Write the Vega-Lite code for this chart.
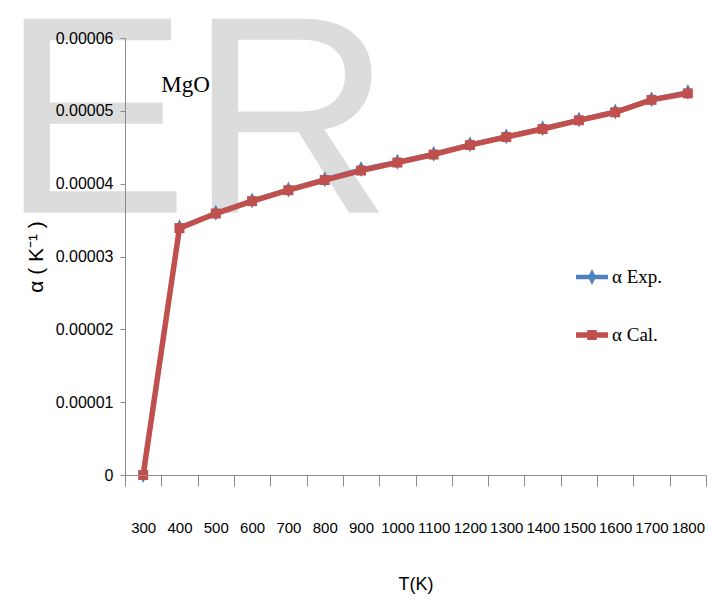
{
  "$schema": "https://vega.github.io/schema/vega-lite/v6.json",
  "width": 581,
  "height": 437,
  "autosize": "none",
  "padding": {"left": 125, "top": 38, "right": 9, "bottom": 125},
  "background": "white",
  "config": {"view": {"stroke": null}},
  "datasets": {
    "alpha": [
      {"T": 300, "series": "α Exp.", "alpha": 0},
      {"T": 400, "series": "α Exp.", "alpha": 0.0000340},
      {"T": 500, "series": "α Exp.", "alpha": 0.0000360},
      {"T": 600, "series": "α Exp.", "alpha": 0.0000377},
      {"T": 700, "series": "α Exp.", "alpha": 0.0000392},
      {"T": 800, "series": "α Exp.", "alpha": 0.0000406},
      {"T": 900, "series": "α Exp.", "alpha": 0.0000420},
      {"T": 1000, "series": "α Exp.", "alpha": 0.0000430},
      {"T": 1100, "series": "α Exp.", "alpha": 0.0000441},
      {"T": 1200, "series": "α Exp.", "alpha": 0.0000454},
      {"T": 1300, "series": "α Exp.", "alpha": 0.0000465},
      {"T": 1400, "series": "α Exp.", "alpha": 0.0000476},
      {"T": 1500, "series": "α Exp.", "alpha": 0.0000488},
      {"T": 1600, "series": "α Exp.", "alpha": 0.0000499},
      {"T": 1700, "series": "α Exp.", "alpha": 0.0000516},
      {"T": 1800, "series": "α Exp.", "alpha": 0.0000526},
      {"T": 300, "series": "α Cal.", "alpha": 0},
      {"T": 400, "series": "α Cal.", "alpha": 0.0000339},
      {"T": 500, "series": "α Cal.", "alpha": 0.0000359},
      {"T": 600, "series": "α Cal.", "alpha": 0.0000376},
      {"T": 700, "series": "α Cal.", "alpha": 0.0000391},
      {"T": 800, "series": "α Cal.", "alpha": 0.0000405},
      {"T": 900, "series": "α Cal.", "alpha": 0.0000418},
      {"T": 1000, "series": "α Cal.", "alpha": 0.0000429},
      {"T": 1100, "series": "α Cal.", "alpha": 0.0000440},
      {"T": 1200, "series": "α Cal.", "alpha": 0.0000453},
      {"T": 1300, "series": "α Cal.", "alpha": 0.0000464},
      {"T": 1400, "series": "α Cal.", "alpha": 0.0000475},
      {"T": 1500, "series": "α Cal.", "alpha": 0.0000487},
      {"T": 1600, "series": "α Cal.", "alpha": 0.0000498},
      {"T": 1700, "series": "α Cal.", "alpha": 0.0000515},
      {"T": 1800, "series": "α Cal.", "alpha": 0.0000524}
    ],
    "notes": [
      {"T": 1000, "alpha": 0.0000360, "label": "ER", "kind": "watermark"},
      {"T": 400, "alpha": 0.0000536, "label": "MgO", "kind": "title"}
    ]
  },
  "encoding": {
    "x": {
      "field": "T",
      "type": "ordinal",
      "scale": {"type": "band", "paddingInner": 0, "paddingOuter": 0},
      "axis": {
        "title": "T(K)",
        "labelAngle": 0,
        "tickBand": "extent",
        "tickSize": 11,
        "tickColor": "#8c8c8c",
        "domainColor": "#8c8c8c",
        "labelPadding": 34,
        "labelFont": "Liberation Sans, sans-serif",
        "labelFontSize": 15,
        "labelColor": "#000000",
        "titleFont": "Liberation Sans, sans-serif",
        "titleFontSize": 18,
        "titleFontWeight": "normal",
        "titleColor": "#000000",
        "titlePadding": 40,
        "zindex": 1
      }
    },
    "y": {
      "field": "alpha",
      "type": "quantitative",
      "scale": {"domain": [0, 0.00006], "nice": false},
      "axis": {
        "title": "α ( K⁻¹ )",
        "values": [0, 0.00001, 0.00002, 0.00003, 0.00004, 0.00005, 0.00006],
        "labelExpr": "datum.value === 0 ? '0' : format(datum.value, '.5f')",
        "grid": false,
        "tickSize": 5,
        "tickColor": "#8c8c8c",
        "domainColor": "#8c8c8c",
        "labelPadding": 7,
        "labelFont": "Liberation Sans, sans-serif",
        "labelFontSize": 16,
        "labelColor": "#000000",
        "titleFont": "Liberation Sans, sans-serif",
        "titleFontSize": 21,
        "titleFontWeight": "normal",
        "titleColor": "#000000",
        "titlePadding": 9,
        "zindex": 1
      }
    }
  },
  "layer": [
    {
      "data": {"name": "notes"},
      "transform": [{"filter": "datum.kind === 'watermark'"}],
      "mark": {"type": "text", "align": "right", "baseline": "alphabetic", "font": "Liberation Sans, sans-serif", "fontSize": 282, "dx": -5, "color": "#dcdcdc", "clip": false},
      "encoding": {"text": {"field": "label"}}
    },
    {
      "data": {"name": "notes"},
      "transform": [{"filter": "datum.kind === 'title'"}],
      "mark": {"type": "text", "align": "center", "baseline": "middle", "font": "Liberation Serif, serif", "fontSize": 23, "dx": 6, "color": "#000000"},
      "encoding": {"text": {"field": "label"}}
    },
    {
      "data": {"name": "alpha"},
      "transform": [{"filter": "datum.series === 'α Exp.'"}],
      "mark": {"type": "line", "strokeWidth": 4},
      "encoding": {
        "color": {
          "field": "series",
          "type": "nominal",
          "scale": {"domain": ["α Exp.", "α Cal."], "range": ["#4F81BD", "#C0504D"]},
          "legend": {
            "title": null,
            "orient": "none",
            "legendX": 451,
            "legendY": 223,
            "padding": 0,
            "rowPadding": 32,
            "symbolSize": 1024,
            "symbolStrokeWidth": 0,
            "labelFont": "Liberation Serif, serif",
            "labelFontSize": 19,
            "labelColor": "#000000",
            "labelOffset": 4,
            "encode": {
              "symbols": {
                "update": {
                  "shape": {"signal": "datum.value === 'α Exp.' ? 'M-1,-0.14L1,-0.14L1,0.14L-1,0.14Z M0,-0.5L0.25,0L0,0.5L-0.25,0Z' : 'M-1,-0.17L1,-0.17L1,0.17L-1,0.17Z M-0.3,-0.32L0.3,-0.32L0.3,0.32L-0.3,0.32Z'"},
                  "fill": {"signal": "datum.value === 'α Exp.' ? '#4F81BD' : '#C0504D'"},
                  "stroke": {"value": "transparent"},
                  "strokeWidth": {"value": 0}
                }
              }
            }
          }
        }
      }
    },
    {
      "data": {"name": "alpha"},
      "transform": [{"filter": "datum.series === 'α Exp.'"}],
      "mark": {"type": "point", "filled": true, "shape": "M0,-1L0.5,0L0,1L-0.5,0Z", "size": 256, "opacity": 1},
      "encoding": {"color": {"field": "series", "type": "nominal"}}
    },
    {
      "data": {"name": "alpha"},
      "transform": [{"filter": "datum.series === 'α Cal.'"}],
      "mark": {"type": "line", "strokeWidth": 5.5},
      "encoding": {"color": {"field": "series", "type": "nominal"}}
    },
    {
      "data": {"name": "alpha"},
      "transform": [{"filter": "datum.series === 'α Cal.'"}],
      "mark": {"type": "point", "filled": true, "shape": "square", "size": 100, "opacity": 1},
      "encoding": {"color": {"field": "series", "type": "nominal"}}
    }
  ]
}
